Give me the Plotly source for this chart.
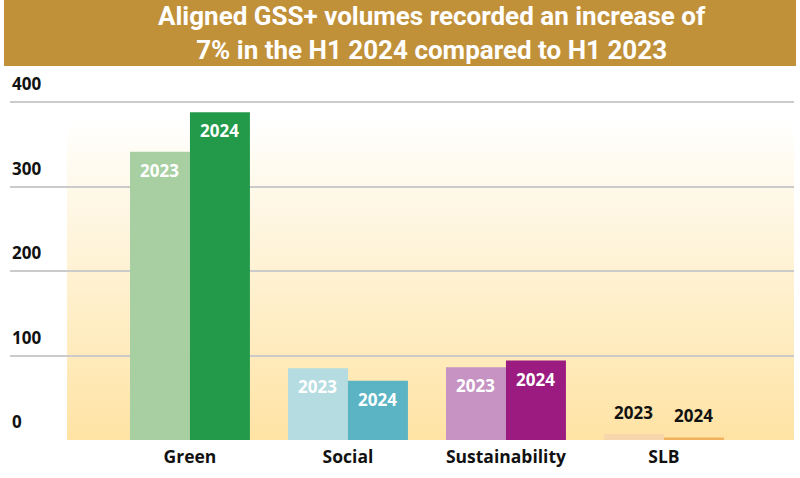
import base64
import plotly.graph_objects as go

categories = ["Green", "Social", "Sustainability", "SLB"]
years = ["2023", "2024"]
v2023 = [341, 85, 86, 7]
v2024 = [388, 70, 94, 3]
c2023 = ["#A8CFA2", "#B5DCE1", "#C693C3", "#F6D6AA"]
c2024 = ["#23994A", "#5AB4C3", "#9B1B80", "#F0B25C"]
ytick_vals = [0, 100, 200, 300, 400]
title_text = "Aligned GSS+ volumes recorded an increase of<br>7% in the H1 2024 compared to H1 2023"

fig = go.Figure()
fig.add_trace(go.Bar(x=categories, y=v2023, name="2023", marker=dict(color=c2023, line=dict(width=0))))
fig.add_trace(go.Bar(x=categories, y=v2024, name="2024", marker=dict(color=c2024, line=dict(width=0))))

# plot area geometry (pixels)
L, R, T, B = 10, 6, 90, 38
W, H = 800, 478
pw, ph = W - L - R, H - T - B
ytop = 400 * ph / 338.0

def px_x(p):
    return (p - L) / pw

def px_y(p):
    return (H - B - p) / ph

svg = ("<svg xmlns='http://www.w3.org/2000/svg' width='100' height='100' preserveAspectRatio='none'>"
       "<defs><linearGradient id='g' x1='0' y1='0' x2='0' y2='1'>"
       "<stop offset='0' stop-color='#FFFFFF'/><stop offset='0.1' stop-color='#FFFCF4'/>"
       "<stop offset='1' stop-color='#FFE3A4'/></linearGradient></defs>"
       "<rect width='100' height='100' fill='url(#g)'/></svg>")
src = "data:image/svg+xml;base64," + base64.b64encode(svg.encode()).decode()

annotations = []
for v in ytick_vals:
    annotations.append(dict(x=0, xref="paper", y=v, yref="y", xanchor="left", yanchor="bottom",
                            yshift=5, text="<b>%d</b>" % v, showarrow=False,
                            font=dict(family="Open Sans", size=17, color="#111111")))

for i, cat in enumerate(categories):
    for j, (vals, yr) in enumerate([(v2023, "2023"), (v2024, "2024")]):
        inside = vals[i] > 30
        annotations.append(dict(
            x=cat, y=vals[i], xref="x", yref="y", xshift=-30 if j == 0 else 30,
            yanchor="top" if inside else "bottom", yshift=-5 if inside else 8,
            text="<b>%s</b>" % yr, showarrow=False,
            font=dict(family="Open Sans", size=17, color="white" if inside else "#111111")))

annotations.append(dict(x=px_x(432), y=px_y(33), xref="paper", yref="paper", xanchor="center",
                        yanchor="middle", text="<b>" + title_text.replace("<br>", "</b><br><b>") + "</b>",
                        showarrow=False,
                        font=dict(family="Roboto", size=26, color="white")))

fig.update_layout(
    width=W, height=H,
    margin=dict(l=L, r=R, t=T, b=B),
    paper_bgcolor="white", plot_bgcolor="rgba(0,0,0,0)",
    barmode="group", bargap=0.241, bargroupgap=0,
    showlegend=False,
    xaxis=dict(type="category", range=[-1.139, 3.823], showgrid=False, zeroline=False,
               ticks="", ticklabelstandoff=4,
               tickfont=dict(family="Open Sans", size=17.5, color="#111111"),
               tickvals=categories, ticktext=["<b>%s</b>" % c for c in categories]),
    yaxis=dict(range=[0, ytop], tickvals=ytick_vals, showticklabels=False,
               gridcolor="#CBCBCB", gridwidth=1.5, zeroline=False, showline=False),
    shapes=[dict(type="rect", xref="paper", yref="paper", x0=px_x(4), x1=px_x(796),
                 y0=px_y(66), y1=px_y(0), fillcolor="#C1913A", line=dict(width=0), layer="below")],
    images=[dict(source=src, xref="paper", yref="paper", x=px_x(67), y=px_y(122),
                 sizex=1 - px_x(67), sizey=px_y(122), xanchor="left", yanchor="top",
                 sizing="stretch", layer="below")],
    annotations=annotations,
)

fig.write_html("out.html", config={"displayModeBar": False},
               post_script="document.body.style.margin='0';")
